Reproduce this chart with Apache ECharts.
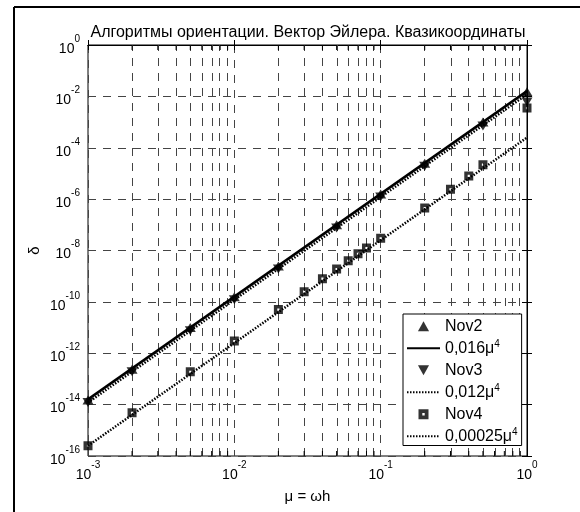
<!DOCTYPE html>
<html><head><meta charset="utf-8">
<script src="https://cdn.jsdelivr.net/npm/echarts@6/dist/echarts.min.js"></script>
<style>html,body{margin:0;padding:0;background:#fff}#c{width:580px;height:512px}</style>
</head><body><div id="c"></div>
<script>
// ---- data ----
const muNov2 = [0.001, 0.002, 0.005, 0.01, 0.02, 0.05, 0.1, 0.2, 0.5, 1];
const deltaNov2 = [1.5e-14, 2.4e-13, 1e-11, 1.6e-10, 2.5e-9, 1e-7, 1.6e-6, 2.5e-5, 1e-3, 1.5e-2];
const muNov3 = [0.001, 0.002, 0.005, 0.01, 0.02, 0.05, 0.1, 0.2, 0.5, 1];
const deltaNov3 = [1.2e-14, 1.9e-13, 7.5e-12, 1.2e-10, 1.9e-9, 7.5e-8, 1.2e-6, 1.9e-5, 7e-4, 6e-3];
const muNov4 = [0.001, 0.002, 0.005, 0.01, 0.02, 0.03, 0.04, 0.05, 0.06, 0.07, 0.08, 0.1, 0.2, 0.3, 0.4, 0.5, 1];
const deltaNov4 = [2.5e-16, 4.8e-15, 1.9e-13, 3e-12, 5e-11, 2.5e-10, 8e-10, 1.9e-9, 4e-9, 7.5e-9, 1.25e-8, 3e-8, 4.5e-7, 2.4e-6, 8e-6, 2.2e-5, 3.5e-3];
const fitMu = [0.001, 1];
const fit016 = [1.6e-14, 1.6e-2];
const fit012 = [1.2e-14, 1.2e-2];
const fit00025 = [2.5e-16, 2.5e-4];
const seriesNames = ['Nov2', '0,016μ^4', 'Nov3', '0,012μ^4', 'Nov4', '0,00025μ^4'];
const xExpMin = -3, xExpMax = 0, yExpMin = -16, yExpMax = 0;
const xMinor = [0.002,0.003,0.004,0.005,0.006,0.007,0.008,0.009,
                0.02,0.03,0.04,0.05,0.06,0.07,0.08,0.09,
                0.2,0.3,0.4,0.5,0.6,0.7,0.8,0.9];
const titleText = 'Алгоритмы ориентации. Вектор Эйлера. Квазикоординаты';
const xName = 'μ = ωh';
const yName = 'δ';

const FONT = '"Liberation Sans", Arial, sans-serif';
const lg = Math.log10;
const pairs = (xs, ys) => xs.map((x, i) => [lg(x), lg(ys[i])]);
const expLabel = v => '{b|10}{s|' + Math.round(v) + '}';
const labelRich = {
  b: {fontSize: 14, fontFamily: FONT, color: '#000', lineHeight: 22, verticalAlign: 'bottom'},
  s: {fontSize: 10, fontFamily: FONT, color: '#000', lineHeight: 12, verticalAlign: 'top'}
};
const gridL = 88, gridT = 45, gridW = 439, gridH = 411;
const gridLine = {type: [8, 7], color: '#444', width: 1};

const chart = echarts.init(document.getElementById('c'), null, {renderer: 'canvas'});
const axisCommon = {
  type: 'value',
  axisLine: {show: true, lineStyle: {color: '#000', width: 1}},
  axisTick: {show: true, inside: true, length: 5, lineStyle: {color: '#000'}},
  minorTick: {show: false}
};
const noSym = {color: 'rgba(0,0,0,0)', borderWidth: 0, opacity: 0};
const option = {
  animation: false,
  backgroundColor: '#fff',
  title: {
    text: titleText, left: 303, top: 20, textAlign: 'center',
    textStyle: {fontSize: 16, fontWeight: 'normal', fontFamily: FONT, color: '#000'}
  },
  grid: {left: gridL, top: gridT, width: gridW, height: gridH, show: true, borderColor: '#000', borderWidth: 1, backgroundColor: '#fff'},
  legend: {
    orient: 'vertical', left: 403, top: 314, width: 122,
    backgroundColor: '#fff', borderColor: '#000', borderWidth: 1,
    padding: [3, 4, 0, 3], itemGap: 3.5, itemWidth: 33, itemHeight: 10,
    data: [
      {name: seriesNames[0]},
      {name: seriesNames[1], itemStyle: noSym},
      {name: seriesNames[2]},
      {name: seriesNames[3], itemStyle: noSym},
      {name: seriesNames[4]},
      {name: seriesNames[5], itemStyle: noSym}
    ],
    textStyle: {fontSize: 16, fontFamily: FONT, color: '#000', lineHeight: 18.5,
      rich: {s: {fontSize: 10, fontFamily: FONT, color: '#000', lineHeight: 10, verticalAlign: 'top'}}},
    formatter: n => n.replace('^4', '{s|4}')
  },
  xAxis: [
    Object.assign({}, axisCommon, {
      min: xExpMin, max: xExpMax, interval: 1, position: 'bottom',
      name: xName, nameLocation: 'middle', nameGap: 33,
      nameTextStyle: {fontSize: 15, fontFamily: FONT, color: '#000'},
      axisLabel: {formatter: expLabel, rich: labelRich, margin: 4},
      splitLine: {show: true, lineStyle: gridLine}
    }),
    Object.assign({}, axisCommon, {
      min: xExpMin, max: xExpMax, interval: 1, position: 'top',
      axisLabel: {show: false}, splitLine: {show: false}
    })
  ],
  yAxis: [
    Object.assign({}, axisCommon, {
      min: yExpMin, max: yExpMax, interval: 2, position: 'left',
      name: yName, nameLocation: 'middle', nameGap: 46, nameRotate: 90, nameMoveOverlap: false,
      nameTextStyle: {fontSize: 15, fontFamily: FONT, color: '#000'},
      axisLabel: {formatter: expLabel, rich: labelRich, margin: 8},
      splitLine: {show: true, lineStyle: gridLine}
    }),
    Object.assign({}, axisCommon, {
      min: yExpMin, max: yExpMax, interval: 2, position: 'right',
      axisLabel: {show: false}, splitLine: {show: false}
    })
  ],
  series: [
    {
      name: seriesNames[0], type: 'scatter', data: pairs(muNov2, deltaNov2),
      symbol: 'path://M5,0L10,9L0,9Z', symbolSize: [11, 10], symbolKeepAspect: true, itemStyle: {color: '#000'}, z: 6,
      markLine: {
        silent: true, symbol: ['none', 'none'], label: {show: false},
        lineStyle: gridLine, z: 1, animation: false,
        data: xMinor.map(v => ({xAxis: lg(v)}))
      }
    },
    {
      name: seriesNames[1], type: 'line', data: pairs(fitMu, fit016), showSymbol: false,
      symbol: 'none', lineStyle: {color: '#000', width: 2.5, type: 'solid'}, itemStyle: noSym, z: 4
    },
    {
      name: seriesNames[2], type: 'scatter', data: pairs(muNov3, deltaNov3),
      symbol: 'path://M0,0L10,0L5,9Z', symbolSize: [11, 10], symbolKeepAspect: true, itemStyle: {color: '#000'}, z: 6
    },
    {
      name: seriesNames[3], type: 'line', data: pairs(fitMu, fit012), showSymbol: false,
      symbol: 'none', lineStyle: {color: '#000', width: 2.5, type: [1.5, 1.5]}, itemStyle: noSym, z: 5
    },
    {
      name: seriesNames[4], type: 'scatter', data: pairs(muNov4, deltaNov4),
      symbol: 'path://M0,0H10V10H0Z M3.8,3.8V6.2H6.2V3.8Z', symbolSize: 9, symbolKeepAspect: true, itemStyle: {color: '#000'}, z: 6
    },
    {
      name: seriesNames[5], type: 'line', data: pairs(fitMu, fit00025), showSymbol: false,
      symbol: 'none', lineStyle: {color: '#000', width: 2.5, type: [1.5, 1.5]}, itemStyle: noSym, z: 5
    }
  ]
};
chart.setOption(option);

// minor ticks (top and bottom) and outer frame
const gfx = [];
xMinor.forEach(v => {
  const px = chart.convertToPixel({xAxisIndex: 0}, lg(v));
  gfx.push({type: 'line', silent: true, shape: {x1: px, y1: gridT + gridH, x2: px, y2: gridT + gridH - 5}, style: {stroke: '#000', lineWidth: 1}, z: 10});
  gfx.push({type: 'line', silent: true, shape: {x1: px, y1: gridT, x2: px, y2: gridT + 5}, style: {stroke: '#000', lineWidth: 1}, z: 10});
});
gfx.push({type: 'line', silent: true, shape: {x1: 14, y1: 7, x2: 580, y2: 7}, style: {stroke: '#000', lineWidth: 2}});
gfx.push({type: 'line', silent: true, shape: {x1: 14, y1: 7, x2: 14, y2: 512}, style: {stroke: '#000', lineWidth: 2}});
chart.setOption({graphic: gfx});
</script></body></html>
